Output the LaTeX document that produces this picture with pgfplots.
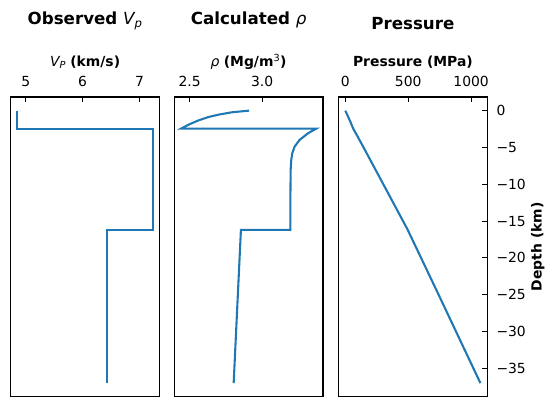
\documentclass[border=0pt]{standalone}
\usepackage{fontspec}
\setmainfont{DejaVu Sans}
\usepackage{pgfplots}
\pgfplotsset{compat=1.18}
\definecolor{mplblue}{HTML}{1F77B4}
\newcommand{\lblfont}{\fontsize{13.89}{16.7}\selectfont}
\pgfplotsset{
  every axis title/.style={at={(axis description cs:0.5,1)}, anchor=base, font=\fontsize{16.67}{20}\selectfont},
  every axis x label/.style={at={(axis description cs:0.5,1)}, anchor=base, yshift=30.3pt, font=\lblfont},
  panel/.style={
    scale only axis, width=148.8pt, height=299.7pt, anchor=south west,
    ymin=-38.85, ymax=1.85,
    xtick pos=right, xticklabel pos=right,
    tick align=inside, major tick length=4.86pt,
    every tick/.style={black, line width=1.11pt},
    axis line style={line width=1.11pt},
    tick label style={font=\lblfont},
    xticklabel style={anchor=base, yshift=10.3pt},
    /pgf/number format/assume math mode=true,
  },
  mpl/.style={mplblue, line width=2.08pt, no marks, line join=miter},
}
\begin{document}
\begin{tikzpicture}
\path[use as bounding box] (0,0) rectangle (556pt,407pt);
% Panel 1: Vp
\begin{axis}[panel, at={(10.7pt,10.3pt)},
  xmin=4.736, xmax=7.352, xtick={5,6,7}, xticklabels={5,6,7}, ytick=\empty,
  title={\bfseries Observed \mdseries\itshape V\textsubscript{p}},
  title style={yshift=72.2pt},
  xlabel={{\itshape V\textsubscript{P}} \textbf{(km/s)}}]
\addplot[mpl] coordinates {(4.85,0) (4.85,-2.45) (7.23,-2.45) (7.23,-16.15) (6.43,-16.15) (6.43,-37)};
\end{axis}
% Panel 2: density
\begin{axis}[panel, at={(174.2pt,10.3pt)},
  xmin=2.394, xmax=3.420, xtick={2.5,3.0}, xticklabels={2.5,3.0}, ytick=\empty,
  title={\bfseries Calculated \mdseries\itshape ρ},
  title style={yshift=72.7pt},
  xlabel={{\itshape ρ} \textbf{(Mg/m\textsuperscript{\mdseries 3})}}]
\addplot[mpl] coordinates {
(2.911,0) (2.790,-0.23) (2.699,-0.55) (2.630,-0.87) (2.562,-1.32) (2.493,-1.91) (2.441,-2.45)
(3.373,-2.45) (3.316,-3.08) (3.258,-3.99) (3.224,-4.90) (3.208,-5.80) (3.201,-6.70) (3.197,-8.06)
(3.195,-12.1) (3.195,-16.2) (2.854,-16.2) (2.804,-37)};
\end{axis}
% Panel 3: pressure
\begin{axis}[panel, at={(338.5pt,10.3pt)},
  xmin=-53.75, xmax=1128.75, xtick={0,500,1000}, xticklabels={0,500,1000},
  ytick={-35,-30,-25,-20,-15,-10,-5,0},
  yticklabels={−35,−30,−25,−20,−15,−10,−5,0},
  ytick pos=right, yticklabel pos=right,
  yticklabel style={anchor=west, inner sep=0pt, xshift=9pt},
  title={\bfseries Pressure},
  title style={yshift=67pt},
  xlabel={\textbf{Pressure (MPa)}},
  ylabel={\textbf{Depth (km)}},
  every axis y label/.style={at={(axis description cs:1.3645,0.5)}, anchor=base, rotate=90, font=\lblfont}]
\addplot[mpl] coordinates {
(0,0) (14,-0.5) (27.3,-1.0) (40,-1.5) (52.4,-2.0) (63.3,-2.45) (81.3,-3) (113.6,-4)
(145.4,-5) (176.9,-6) (239.7,-8) (365.1,-12) (495.2,-16.15) (741.8,-25) (1073.8,-37)};
\end{axis}
\end{tikzpicture}
\end{document}
